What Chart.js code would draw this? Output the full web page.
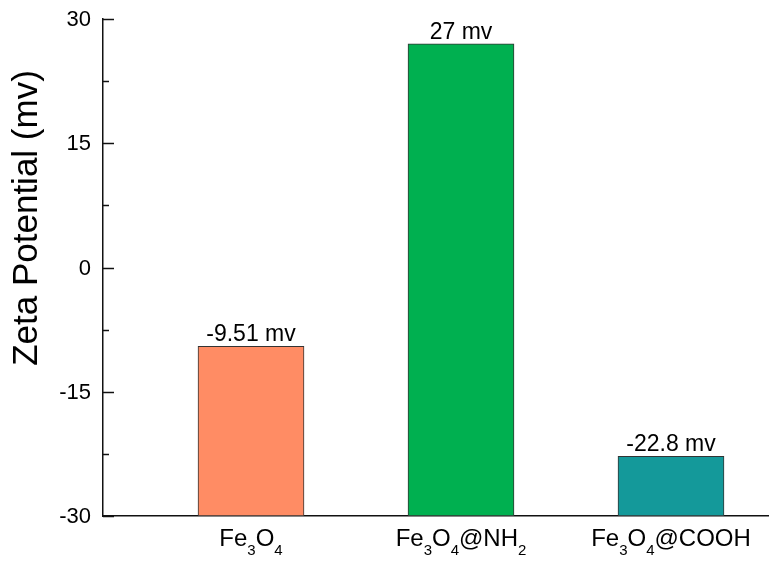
<!DOCTYPE html>
<html>
<head>
<meta charset="utf-8">
<script src="https://cdn.jsdelivr.net/npm/chart.js@4/dist/chart.umd.min.js"></script>
<style>
  html, body { margin: 0; padding: 0; background: #fff; }
  canvas { display: block; }
</style>
</head>
<body>
<canvas id="c" width="769" height="563"></canvas>
<script>
// ---- data ----
const categories = ["Fe3O4", "Fe3O4@NH2", "Fe3O4@COOH"];
const positions = [1, 2, 3];
const zetaValues = [-9.51, 27, -22.8];
const valueUnit = "mv";
const yTicks = [-30, -15, 0, 15, 30];
const yMin = -30, yMax = 30;
const barColors = ["#FF8C64", "#00B050", "#14999A"];

const FONT = "'Liberation Sans', Arial, sans-serif";

const yAxisDecor = {
  id: 'yAxisDecor',
  afterDraw(chart) {
    const ctx = chart.ctx, ys = chart.scales.y, ca = chart.chartArea;
    ctx.save();
    ctx.strokeStyle = '#111';
    ctx.lineWidth = 1.5;
    ctx.fillStyle = '#000';
    ctx.font = '22px ' + FONT;
    ctx.textAlign = 'right';
    ctx.textBaseline = 'middle';
    for (let i = 0; i < yTicks.length; i++) {
      const v = yTicks[i];
      const p = Math.round(ys.getPixelForValue(v)) + 0.5;
      ctx.beginPath(); ctx.moveTo(ca.left, p); ctx.lineTo(ca.left + 11, p); ctx.stroke();
      ctx.fillText(String(v), ca.left - 12, p);
      if (i < yTicks.length - 1) {
        const m = (v + yTicks[i + 1]) / 2;
        const pm = Math.round(ys.getPixelForValue(m)) + 0.5;
        ctx.beginPath(); ctx.moveTo(ca.left, pm); ctx.lineTo(ca.left + 6, pm); ctx.stroke();
      }
    }
    ctx.restore();
  }
};

const valueLabels = {
  id: 'valueLabels',
  afterDatasetsDraw(chart) {
    const ctx = chart.ctx;
    const meta = chart.getDatasetMeta(0);
    ctx.save();
    ctx.fillStyle = '#000';
    ctx.font = '23px ' + FONT;
    ctx.textAlign = 'center';
    ctx.textBaseline = 'alphabetic';
    meta.data.forEach((bar, i) => {
      const top = Math.min(bar.y, bar.base);
      ctx.fillText(zetaValues[i] + ' ' + valueUnit, bar.x, top - 5);
    });
    ctx.restore();
  }
};

function splitSub(label) {
  const parts = [];
  const re = /([A-Za-z@]+)|(\d+)/g;
  let m;
  while ((m = re.exec(label)) !== null) {
    if (m[1]) parts.push({ t: m[1], sub: false });
    else parts.push({ t: m[2], sub: true });
  }
  return parts;
}

const xLabels = {
  id: 'xLabels',
  afterDraw(chart) {
    const ctx = chart.ctx, xs = chart.scales.x, ca = chart.chartArea;
    const mainFont = '24px ' + FONT, subFont = '15px ' + FONT;
    ctx.save();
    ctx.fillStyle = '#000';
    ctx.textBaseline = 'alphabetic';
    ctx.textAlign = 'left';
    categories.forEach((lab, i) => {
      const parts = splitSub(lab);
      let w = 0;
      parts.forEach(p => { ctx.font = p.sub ? subFont : mainFont; p.w = ctx.measureText(p.t).width; w += p.w; });
      let x = xs.getPixelForValue(positions[i]) - w / 2;
      const base = ca.bottom + 30;
      parts.forEach(p => {
        ctx.font = p.sub ? subFont : mainFont;
        ctx.fillText(p.t, x, p.sub ? base + 9 : base);
        x += p.w;
      });
    });
    ctx.restore();
  }
};

const yTitle = {
  id: 'yTitle',
  afterDraw(chart) {
    const ctx = chart.ctx;
    ctx.save();
    ctx.fillStyle = '#000';
    ctx.font = '35px ' + FONT;
    ctx.textAlign = 'center';
    ctx.textBaseline = 'alphabetic';
    ctx.translate(37, 218);
    ctx.rotate(-Math.PI / 2);
    ctx.fillText('Zeta Potential (mv)', 0, 0);
    ctx.restore();
  }
};

new Chart(document.getElementById('c'), {
  type: 'bar',
  data: {
    datasets: [{
      data: positions.map((p, i) => ({ x: p, y: [yMin, zetaValues[i]] })),
      backgroundColor: barColors,
      borderColor: '#333',
      borderWidth: 1,
      borderSkipped: false,
      barThickness: 106
    }]
  },
  options: {
    responsive: false,
    animation: false,
    devicePixelRatio: 1,
    layout: { padding: { top: 19, left: 0, right: 0, bottom: 0 } },
    plugins: { legend: { display: false }, tooltip: { enabled: false } },
    scales: {
      x: {
        type: 'linear',
        offset: false,
        min: 0.2952,
        max: 3.4667,
        grid: { display: false, drawTicks: false },
        border: { display: true, color: '#111', width: 1.5 },
        ticks: { display: false },
        afterFit(s) { s.height = 47; }
      },
      y: {
        min: yMin,
        max: yMax,
        afterBuildTicks(s) { s.ticks = yTicks.map(v => ({ value: v })); },
        grid: { display: false, drawOnChartArea: false, drawTicks: false },
        border: { display: true, color: '#111', width: 1.5 },
        ticks: { display: false },
        afterFit(s) { s.width = 103; }
      }
    }
  },
  plugins: [yAxisDecor, valueLabels, xLabels, yTitle]
});
</script>
</body>
</html>
